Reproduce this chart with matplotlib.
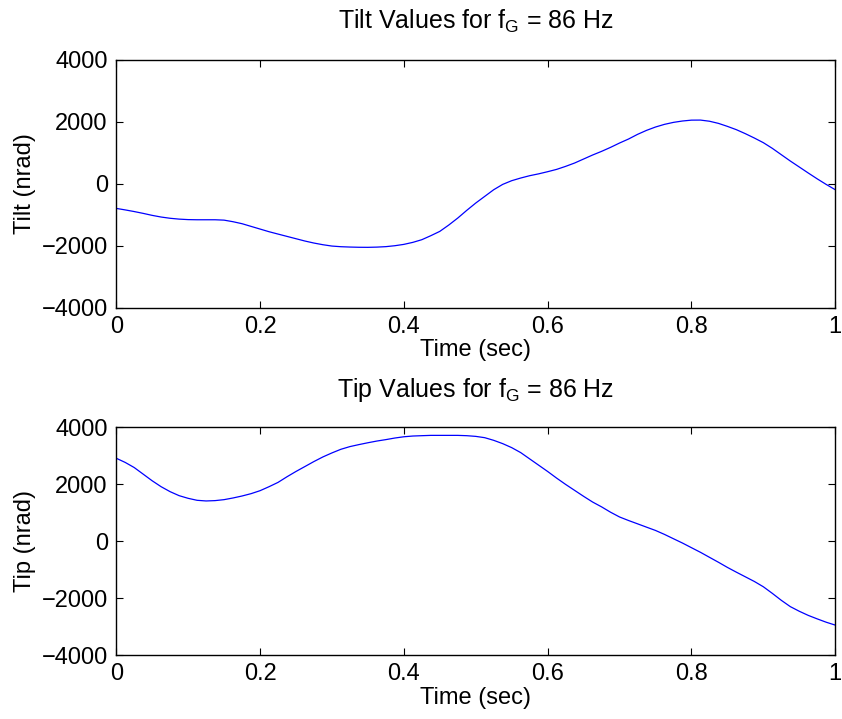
import matplotlib.pyplot as plt
import numpy as np

# krok 0.0125 s
time = np.linspace(0, 1, 81)

tilt = [-796, -845, -898, -957, -1021, -1075, -1115, -1142, -1158, -1163,
        -1163, -1163, -1175, -1226, -1290, -1376, -1462, -1548, -1624, -1699,
        -1774, -1849, -1914, -1968, -2011, -2032, -2043, -2050, -2052, -2045,
        -2030, -2000, -1957, -1892, -1806, -1677, -1538, -1333, -1108, -860,
        -624, -409, -194, -22, 97, 183, 258, 318, 387, 462,
        559, 667, 796, 925, 1043, 1172, 1312, 1441, 1591, 1720,
        1828, 1914, 1978, 2022, 2050, 2052, 2015, 1946, 1849, 1742,
        1613, 1473, 1323, 1140, 935, 731, 538, 344, 155, -25,
        -194]

tip = [2907, 2760, 2581, 2349, 2116, 1907, 1733, 1593, 1500, 1430,
       1407, 1419, 1453, 1512, 1581, 1663, 1767, 1907, 2058, 2256,
       2442, 2616, 2791, 2953, 3093, 3221, 3315, 3385, 3450, 3510,
       3560, 3616, 3660, 3686, 3698, 3709, 3709, 3709, 3709, 3698,
       3674, 3628, 3535, 3419, 3279, 3105, 2884, 2663, 2442, 2209,
       1988, 1779, 1570, 1370, 1200, 1012, 845, 721, 605, 488,
       372, 233, 81, -70, -233, -395, -570, -744, -925, -1093,
       -1256, -1419, -1605, -1837, -2081, -2302, -2465, -2610, -2733, -2850,
       -2950]

xticks = [0, 0.2, 0.4, 0.6, 0.8, 1]
xtick_labels = ['0', '0.2', '0.4', '0.6', '0.8', '1']
yticks = [-4000, -2000, 0, 2000, 4000]
ytick_labels = ['\u22124000', '\u22122000', '0', '2000', '4000']

plt.rcParams['font.family'] = ['Liberation Sans', 'DejaVu Sans']
plt.rcParams['mathtext.fontset'] = 'custom'
plt.rcParams['mathtext.rm'] = 'Liberation Sans'

fig = plt.figure(figsize=(8.42, 7.19), dpi=100)
ax1 = fig.add_axes([0.138, 0.572, 0.854, 0.345])
ax2 = fig.add_axes([0.138, 0.089, 0.854, 0.317])

panels = [(ax1, tilt, 'Tilt', 'Tilt (nrad)'), (ax2, tip, 'Tip', 'Tip (nrad)')]
for ax, values, name, ylab in panels:
    ax.plot(time, values, color='#0000ff', linewidth=0.9)
    ax.set_xlim(0, 1)
    ax.set_ylim(-4000, 4000)
    ax.set_xticks(xticks)
    ax.set_xticklabels(xtick_labels)
    ax.set_yticks(yticks)
    ax.set_yticklabels(ytick_labels)
    ax.tick_params(direction='in', top=True, right=True, length=5, width=0.8,
                   labelsize=17, pad=6)
    ax.set_xlabel('Time (sec)', fontsize=17, labelpad=1)
    ax.set_ylabel(ylab, fontsize=17, labelpad=4)
    ax.set_title(name + r' Values for $\mathregular{f_G}$ = 86 Hz', fontsize=18, pad=22)
    for s in ax.spines.values():
        s.set_linewidth(1.0)

fig.savefig('out.png', dpi=100)
